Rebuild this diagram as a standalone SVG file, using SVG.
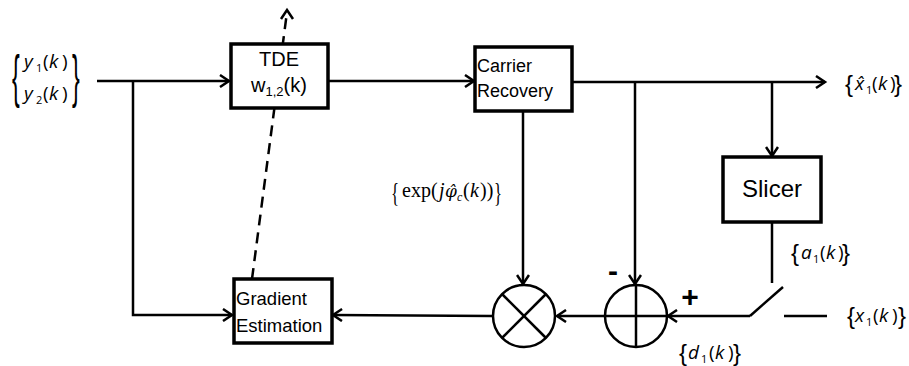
<svg xmlns="http://www.w3.org/2000/svg" width="909" height="366" viewBox="0 0 909 366">
<style>
.box{fill:#fff;stroke:#000;stroke-width:3.5}
.ln{fill:none;stroke:#000;stroke-width:2.5}
.lbl{font-family:"Liberation Sans",Arial,sans-serif;fill:#000}
.math{font-family:"Open Sans","Liberation Sans",sans-serif;font-style:italic;fill:#000;font-size:19px}
.sub{font-size:11px;font-style:normal}
.up{font-style:normal}
.br{font-family:"Liberation Sans",sans-serif;font-style:normal;fill:#000;font-size:24px}
.big{font-size:58px}
.ser{font-family:"Liberation Serif","Times New Roman",serif;fill:#000;font-size:20px}
.serbr{font-size:28px}
.phi{font-family:"DejaVu Serif",serif;font-style:italic;font-size:17px}
</style>
<defs>
<marker id="ah" markerUnits="userSpaceOnUse" markerWidth="14" markerHeight="14" refX="11" refY="7" orient="auto">
<path d="M2,1 L11,7 L2,13" fill="none" stroke="#000" stroke-width="2.5"/>
</marker>
</defs>
<g id="connectors">
<line class="ln" x1="97" y1="81" x2="229" y2="81" marker-end="url(#ah)"/>
<polyline class="ln" points="133,81 133,315 232,315" marker-end="url(#ah)"/>
<line class="ln" x1="328" y1="81" x2="474" y2="81" marker-end="url(#ah)"/>
<line class="ln" x1="572" y1="82" x2="825" y2="82" marker-end="url(#ah)"/>
<line class="ln" x1="635" y1="82" x2="635" y2="284" marker-end="url(#ah)"/>
<line class="ln" x1="772" y1="82" x2="772" y2="156" marker-end="url(#ah)"/>
<line class="ln" x1="772" y1="222" x2="772" y2="283"/>
<line class="ln" x1="750" y1="316" x2="783" y2="287"/>
<line class="ln" x1="750" y1="316" x2="668" y2="316" marker-end="url(#ah)"/>
<line class="ln" x1="784" y1="316" x2="827" y2="316"/>
<line class="ln" x1="523" y1="111" x2="523" y2="284" marker-end="url(#ah)"/>
<line class="ln" x1="604" y1="316" x2="557" y2="316" marker-end="url(#ah)"/>
<line class="ln" x1="492" y1="316" x2="333" y2="315" marker-end="url(#ah)"/>
<line class="ln" x1="252" y1="279" x2="287" y2="12" stroke-dasharray="11 7"/>
<path class="ln" d="M281,19 L287,10 L293,19"/>
</g>
<g id="tde">
<rect class="box" x="231" y="44" width="97" height="64"/>
<text class="lbl" x="279" y="66" font-size="20" text-anchor="middle">TDE</text>
<text class="lbl" x="279" y="92" font-size="20" text-anchor="middle">w<tspan font-size="13" dy="4">1,2</tspan><tspan dy="-4">(k)</tspan></text>
</g>
<g id="carrier">
<rect class="box" x="475" y="47" width="97" height="64"/>
<text class="lbl" x="477" y="72" font-size="18">Carrier</text>
<text class="lbl" x="477" y="97" font-size="18">Recovery</text>
</g>
<g id="gradient">
<rect class="box" x="234" y="279" width="98" height="64"/>
<text class="lbl" x="236" y="305" font-size="18.5">Gradient</text>
<text class="lbl" x="236" y="332" font-size="18.5">Estimation</text>
</g>
<g id="slicer">
<rect class="box" x="723" y="157" width="98" height="65"/>
<text class="lbl" x="772" y="197" font-size="24" text-anchor="middle">Slicer</text>
</g>
<g id="multiplier">
<circle class="ln" cx="524" cy="316" r="31" stroke-width="3"/>
<line class="ln" x1="502" y1="294" x2="546" y2="338" stroke-width="3"/>
<line class="ln" x1="546" y1="294" x2="502" y2="338" stroke-width="3"/>
</g>
<g id="adder">
<circle class="ln" cx="636" cy="316" r="31" stroke-width="3"/>
<line class="ln" x1="605" y1="316" x2="667" y2="316" stroke-width="3"/>
<line class="ln" x1="636" y1="285" x2="636" y2="347" stroke-width="3"/>
<text class="lbl" x="613" y="281" font-size="30" font-weight="bold" text-anchor="middle">-</text>
<text class="lbl" x="690" y="307" font-size="30" font-weight="bold" text-anchor="middle">+</text>
</g>
<g id="labels">
<text class="br big" transform="translate(12,96) scale(0.4,1)">{</text>
<text class="br big" transform="translate(72,96) scale(0.4,1)">}</text>
<text class="math" y="68"><tspan x="24">y</tspan><tspan class="sub" x="36" dy="4">1</tspan><tspan class="up" x="43" dy="-4">(</tspan><tspan x="49">k</tspan><tspan class="up" x="62">)</tspan></text>
<text class="math" y="100"><tspan x="24">y</tspan><tspan class="sub" x="36" dy="4">2</tspan><tspan class="up" x="43" dy="-4">(</tspan><tspan x="49">k</tspan><tspan class="up" x="62">)</tspan></text>

<text class="br" x="845" y="92">{</text>
<text class="math" y="90"><tspan x="855">x̂</tspan><tspan class="sub" x="866" dy="4">1</tspan><tspan class="up" x="872" dy="-4">(</tspan><tspan x="878">k</tspan><tspan class="up" x="890">)</tspan></text>
<text class="br" x="894" y="92">}</text>

<text class="br" x="791" y="261">{</text>
<text class="math" y="259"><tspan x="801">a</tspan><tspan class="sub" x="813" dy="4">1</tspan><tspan class="up" x="820" dy="-4">(</tspan><tspan x="826">k</tspan><tspan class="up" x="838">)</tspan></text>
<text class="br" x="842" y="261">}</text>

<text class="br" x="847" y="324">{</text>
<text class="math" y="322"><tspan x="855">x</tspan><tspan class="sub" x="866" dy="4">1</tspan><tspan class="up" x="873" dy="-4">(</tspan><tspan x="879">k</tspan><tspan class="up" x="892">)</tspan></text>
<text class="br" x="898" y="324">}</text>

<text class="br" x="679" y="361">{</text>
<text class="math" y="359"><tspan x="688">d</tspan><tspan class="sub" x="701" dy="4">1</tspan><tspan class="up" x="709" dy="-4">(</tspan><tspan x="715">k</tspan><tspan class="up" x="728">)</tspan></text>
<text class="br" x="733" y="361">}</text>

<text class="ser serbr" transform="translate(391,202) scale(0.6,1)">{</text>
<text class="ser" y="197"><tspan x="402">exp(</tspan><tspan x="439" font-style="italic">j</tspan><tspan class="phi" x="445">φ̂</tspan><tspan x="457" font-style="italic" font-size="12" dy="4">c</tspan><tspan x="463" dy="-4">(</tspan><tspan x="470" font-style="italic">k</tspan><tspan x="480">))</tspan></text>
<text class="ser serbr" transform="translate(494,202) scale(0.6,1)">}</text>
</g>
</svg>
